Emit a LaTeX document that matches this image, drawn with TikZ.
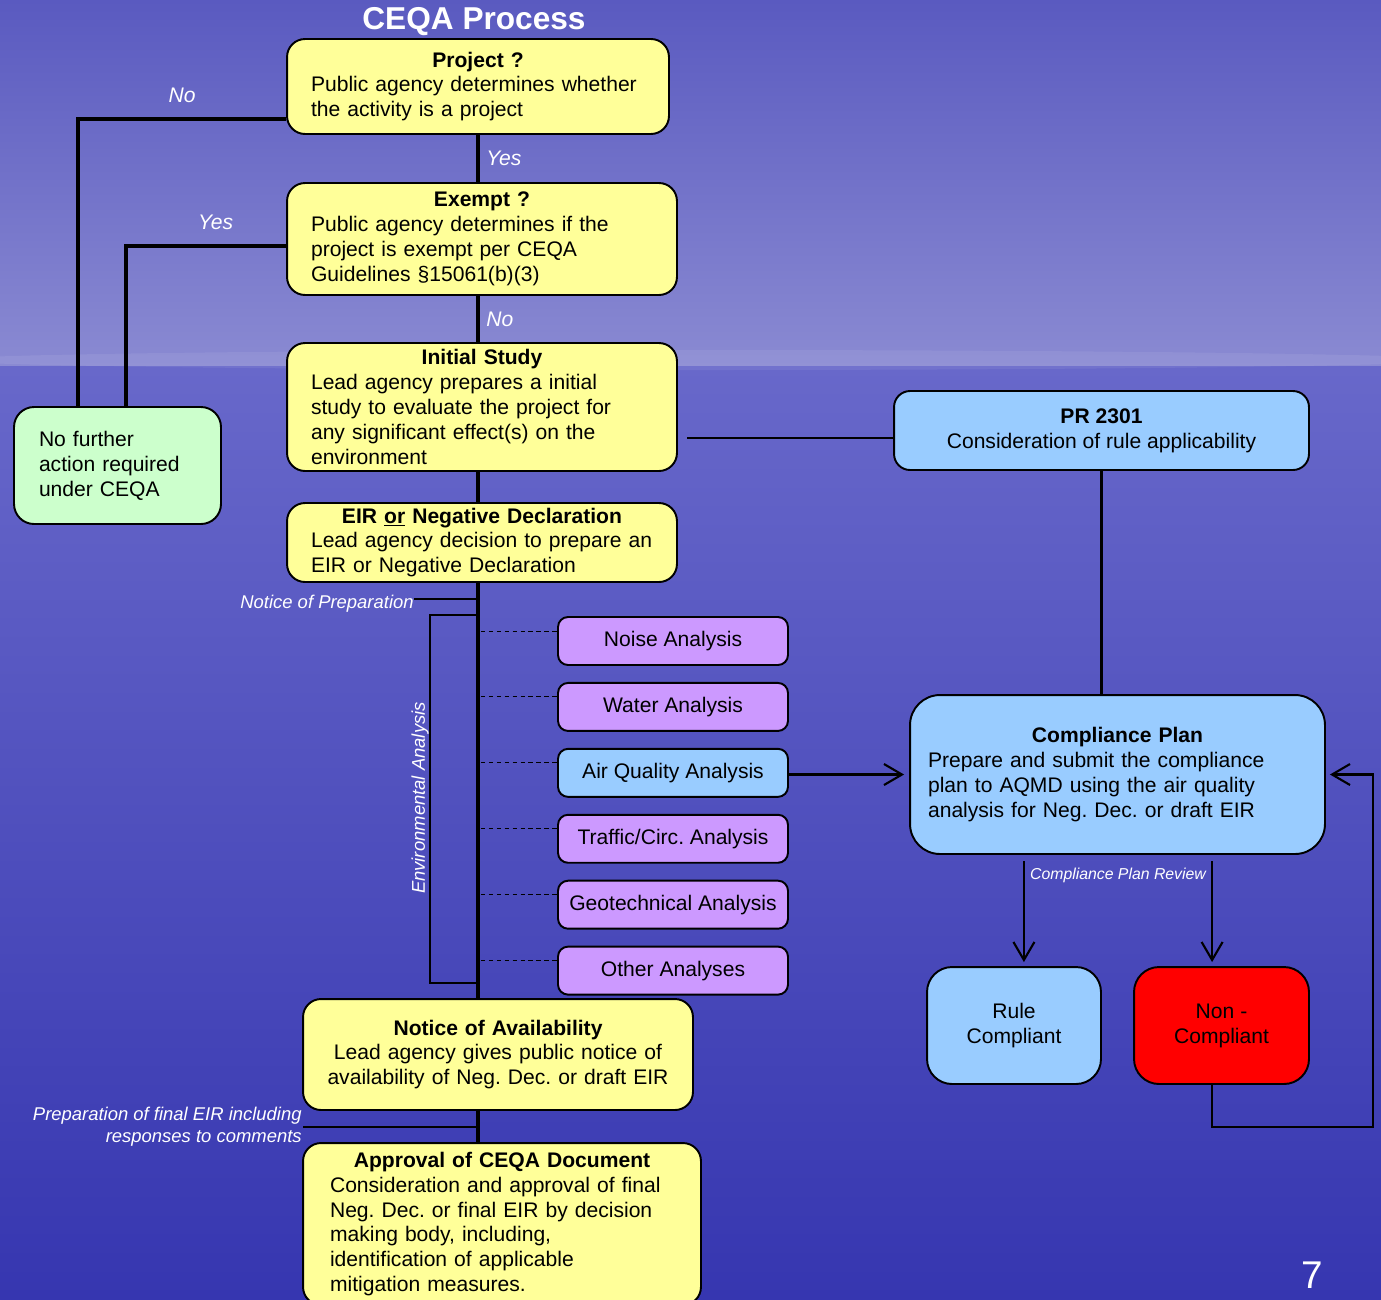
\documentclass[tikz,border=0pt]{standalone}
\usepackage{fontspec}
\setmainfont{Liberation Sans}
\usetikzlibrary{arrows.meta, positioning, calc}
\frenchspacing
\definecolor{stagecol}{RGB}{255,255,153}
\definecolor{endcol}{RGB}{204,255,204}
\definecolor{rulecol}{RGB}{153,204,255}
\definecolor{anacol}{RGB}{204,153,255}
\definecolor{skytop}{RGB}{90,90,192}
\definecolor{skylow}{RGB}{138,138,210}
\definecolor{seatop}{RGB}{104,104,202}
\definecolor{seamid}{RGB}{44,44,166}
\definecolor{seabot}{RGB}{54,54,176}
\newcommand{\boxhead}[1]{{\centering\bfseries #1\par}}
\newcommand{\bodyfont}{\fontsize{12}{14.2}\selectfont}
\newcommand{\notefont}{\fontsize{10.5}{12.5}\selectfont\itshape}

\begin{document}
\begin{tikzpicture}[x=0.02cm, y=-0.02cm,
  stage/.style={rectangle, rounded corners=0.36cm, draw=black, line width=1.1pt,
                fill=stagecol, font=\bodyfont, align=left, inner xsep=0.48cm,
                inner ysep=0.05cm},
  rulebox/.style={rectangle, rounded corners=0.32cm, draw=black, line width=1.1pt,
                  fill=rulecol, font=\bodyfont, align=center, inner ysep=0.05cm},
  analysis/.style={rectangle, rounded corners=0.2cm, draw=black, line width=1.1pt,
                   fill=anacol, minimum width=4.6cm, minimum height=0.96cm,
                   font=\bodyfont},
  note/.style={text=white, font=\notefont},
  spine/.style={line width=2.8pt},
  branch/.style={line width=2.8pt},
  link/.style={line width=1.2pt},
  dashlink/.style={line width=0.6pt, dash pattern=on 2.5pt off 2pt},
  arrow/.style={line width=1.2pt, -{Straight Barb[length=0.36cm, width=0.42cm, line width=1.2pt]}}
]

% Page and background
\useasboundingbox (0,0) rectangle (1381,1299);
\clip (0,0) rectangle (1381,1299);
\shade[top color=skytop, bottom color=skylow] (0,0) rectangle (1381,366);
\shade[top color=seatop, middle color=seamid, bottom color=seabot] (0,366) rectangle (1381,1299);
\fill[white, opacity=0.07] (700,360) ellipse [x radius=15cm, y radius=0.2cm];

\node[text=white, font=\fontsize{18}{20}\selectfont\bfseries] (title) at (474,22) {CEQA Process};

% CEQA stages
\node[stage, text width=6.68cm, minimum height=1.9cm] (project) at (478,86.5)
  {\boxhead{Project ?}Public agency determines whether\\the activity is a project};
\node[stage, text width=6.84cm, minimum height=2.24cm] (exempt) at (482,239)
  {\boxhead{Exempt ?}Public agency determines if the\\project is exempt per CEQA\\Guidelines §15061(b)(3)};
\node[stage, text width=6.84cm, minimum height=2.56cm] (initial) at (482,407)
  {\boxhead{Initial Study}Lead agency prepares a initial\\study to evaluate the project for\\any significant effect(s) on the\\environment};
\node[stage, text width=6.84cm, minimum height=1.58cm] (eir) at (482,542.5)
  {\boxhead{EIR \underline{or} Negative Declaration}Lead agency decision to prepare an\\EIR or Negative Declaration};
\node[stage, text width=7.0cm, inner xsep=0.4cm, align=center, minimum height=2.22cm] (notice) at (498,1054.5)
  {\textbf{Notice of Availability}\\Lead agency gives public notice of\\availability of Neg. Dec. or draft EIR};
\node[stage, text width=6.88cm, inner xsep=0.54cm, minimum height=3.24cm] (approval) at (502,1224)
  {\boxhead{Approval of CEQA Document}Consideration and approval of final\\Neg. Dec. or final EIR by decision\\making body, including,\\identification of applicable\\mitigation measures.};

\node[stage, fill=endcol, rounded corners=0.4cm, text width=3.14cm, inner xsep=0.5cm,
      minimum height=2.34cm] (nofurther) at (117.5,465.5)
  {No further\\action required\\under CEQA};

% Rule 2301 side
\node[rulebox, minimum width=8.3cm, minimum height=1.58cm] (pr) at (1101.5,430.5)
  {\textbf{PR 2301}\\Consideration of rule applicability};
\node[rulebox, rounded corners=0.6cm, text width=7.58cm, inner xsep=0.36cm, align=left,
      minimum height=3.18cm] (plan) at (1117.5,774.5)
  {\boxhead{Compliance Plan}Prepare and submit the compliance\\plan to AQMD using the air quality\\analysis for Neg. Dec. or draft EIR};
\node[rulebox, rounded corners=0.5cm, minimum width=3.48cm, minimum height=2.34cm] (rule) at (1014,1025.5)
  {Rule\\Compliant};
\node[rulebox, fill=red, rounded corners=0.5cm, minimum width=3.5cm, minimum height=2.34cm] (noncomp) at (1221.5,1025.5)
  {Non -\\Compliant};

% Environmental analyses
\node[analysis] (noise) at (673,641) {Noise Analysis};
\node[analysis, below=0.32cm of noise] (water) {Water Analysis};
\node[analysis, fill=rulecol, below=0.32cm of water] (air) {Air Quality Analysis};
\node[analysis, below=0.32cm of air] (traffic) {Traffic/Circ. Analysis};
\node[analysis, below=0.32cm of traffic] (geo) {Geotechnical Analysis};
\node[analysis, below=0.32cm of geo] (other) {Other Analyses};

% Main spine
\draw[spine] (project.south) -- (project.south |- exempt.north)
  node[midway, right, note, font=\fontsize{12}{14}\selectfont\itshape] {Yes};
\draw[spine] (project.south |- exempt.south) -- (project.south |- initial.north)
  node[midway, right, note, font=\fontsize{12}{14}\selectfont\itshape] {No};
\draw[spine] (project.south |- initial.south) -- (project.south |- eir.north);
\draw[spine] (project.south |- eir.south) -- (project.south |- notice.north);
\draw[spine] (project.south |- notice.south) -- (project.south |- approval.north);

% Exits to no further action
\draw[branch] ([yshift=0.32cm]project.south west) -| ([xshift=-0.79cm]nofurther.north)
  node[pos=0.25, above=0.15cm, note, font=\fontsize{12}{14}\selectfont\itshape] {No};
\draw[branch] ([yshift=-0.14cm]exempt.west) -| ([xshift=0.17cm]nofurther.north)
  node[pos=0.22, above=0.15cm, note, font=\fontsize{12}{14}\selectfont\itshape] {Yes};

% Notice of preparation and environmental analysis bracket
\node[note, anchor=east, inner xsep=0pt] (prep) at (414,604) {Notice of Preparation};
\draw[link] ([yshift=0.1cm]prep.east) -- ([yshift=0.1cm]prep.east -| project.south);
\coordinate (envtop) at (430,615);
\coordinate (envbot) at (430,983);
\draw[link] (envtop -| project.south) -- (envtop) -- (envbot) -- (envbot -| project.south);
\node[note, rotate=90] (envlabel) at (420,798) {Environmental Analysis};

\foreach \n in {noise, water, air, traffic, geo, other} {
  \path ($(\n.north west)!0.3!(\n.south west)$) coordinate (d\n);
  \draw[dashlink] ([xshift=0.06cm]d\n -| project.south) -- (d\n);
}

% Final EIR preparation
\node[note, align=right, anchor=east, inner xsep=0pt] (final) at (302,1127)
  {Preparation of final EIR including\\responses to comments};
\draw[link] ([xshift=0.02cm]final.east) -- (final.east -| project.south);

% Rule applicability and compliance plan
\draw[link] ([yshift=-0.15cm]pr.west) -- ([yshift=-0.15cm,xshift=0.18cm]pr.west -| initial.east);
\draw[link] (pr.south) -- (pr.south |- plan.north);
\draw[arrow, shorten >=0.1cm] (air.east |- plan.west) -- (plan.west);

\node[note, font=\fontsize{9}{11}\selectfont\itshape] (review) at (1118,875) {Compliance Plan Review};
\draw[arrow, shorten >=0.08cm] (review.north west) -- (review.north west |- rule.north);
\draw[arrow, shorten >=0.08cm] (review.north east) -- (review.north east |- noncomp.north);

\coordinate (loop) at (1373,1127);
\draw[arrow, shorten >=0.08cm] (noncomp.south -| review.north east) |- (loop) |- (plan.east);

\node[text=white, font=\fontsize{22}{24}\selectfont] (pageno) at (1312,1275) {7};

\end{tikzpicture}
\end{document}
